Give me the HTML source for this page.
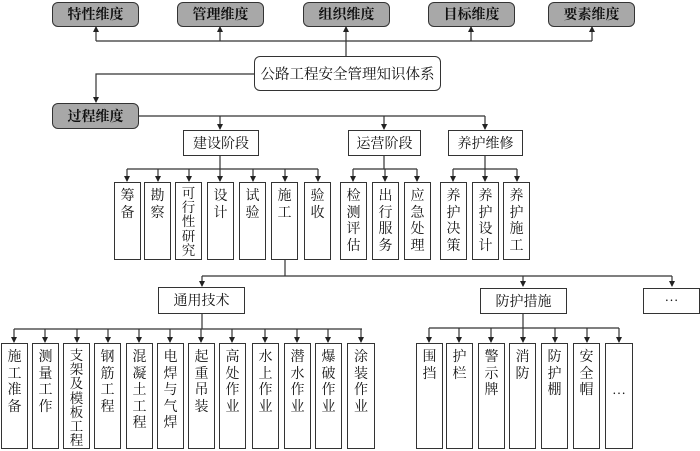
<!DOCTYPE html>
<html><head><meta charset="utf-8"><style>
body{margin:0;width:700px;height:451px;background:#fff;overflow:hidden;position:relative;font-family:"Noto Serif CJK SC","Liberation Serif","WenQuanYi Zen Hei",serif;color:#111}
.b{position:absolute;box-sizing:border-box;border:1.3px solid #333;background:#fff;text-align:center;font-size:14px;}
.g{background:#a8a8a8;border-radius:6px;font-weight:bold;line-height:23px;font-size:14px}
.h{line-height:24px}
.v{font-size:14px;line-height:16.5px;padding-top:4px}
.t{line-height:14.2px;font-size:13.5px}
svg{position:absolute;left:0;top:0}
</style></head><body>
<svg width="700" height="451">
<defs><marker id="a" markerWidth="6" markerHeight="6" refX="5" refY="3" orient="auto" markerUnits="userSpaceOnUse"><path d="M0,0L6,3L0,6z" fill="#222"/></marker></defs>
<g stroke="#333" stroke-width="1.2" fill="none">
<path d="M96,41H592M346,56V41"/>
<path d="M96,41V27" marker-end="url(#a)"/><path d="M220,41V27" marker-end="url(#a)"/><path d="M346,41V27" marker-end="url(#a)"/><path d="M471,41V27" marker-end="url(#a)"/><path d="M592,41V27" marker-end="url(#a)"/>
<path d="M254,74H96V102" marker-end="url(#a)"/>
<path d="M139,116H485"/>
<path d="M220,116V129" marker-end="url(#a)"/><path d="M384,116V129" marker-end="url(#a)"/><path d="M485,116V129" marker-end="url(#a)"/>
<path d="M220,155V169M127,169H318M384,155V169M353,169H417M485,155V169M453,169H517"/>
<path d="M127,169V181" marker-end="url(#a)"/><path d="M158,169V181" marker-end="url(#a)"/><path d="M189,169V181" marker-end="url(#a)"/><path d="M220,169V181" marker-end="url(#a)"/><path d="M253,169V181" marker-end="url(#a)"/><path d="M285,169V181" marker-end="url(#a)"/><path d="M318,169V181" marker-end="url(#a)"/>
<path d="M353,169V181" marker-end="url(#a)"/><path d="M385,169V181" marker-end="url(#a)"/><path d="M417,169V181" marker-end="url(#a)"/>
<path d="M453,169V181" marker-end="url(#a)"/><path d="M485,169V181" marker-end="url(#a)"/><path d="M517,169V181" marker-end="url(#a)"/>
<path d="M285,260V276M202,276H672"/>
<path d="M202,276V286" marker-end="url(#a)"/><path d="M523,276V286" marker-end="url(#a)"/><path d="M672,276V286" marker-end="url(#a)"/>
<path d="M202,313V329M14,329H362M523,313V328M429,328H619"/>
<path d="M14,329V342" marker-end="url(#a)"/><path d="M45,329V342" marker-end="url(#a)"/><path d="M77,329V342" marker-end="url(#a)"/><path d="M108,329V342" marker-end="url(#a)"/><path d="M139,329V342" marker-end="url(#a)"/><path d="M170,329V342" marker-end="url(#a)"/><path d="M201,329V342" marker-end="url(#a)"/><path d="M232,329V342" marker-end="url(#a)"/><path d="M265,329V342" marker-end="url(#a)"/><path d="M297,329V342" marker-end="url(#a)"/><path d="M328,329V342" marker-end="url(#a)"/><path d="M361,329V342" marker-end="url(#a)"/>
<path d="M429,328V342" marker-end="url(#a)"/><path d="M459,328V342" marker-end="url(#a)"/><path d="M491,328V342" marker-end="url(#a)"/><path d="M523,328V342" marker-end="url(#a)"/><path d="M555,328V342" marker-end="url(#a)"/><path d="M587,328V342" marker-end="url(#a)"/><path d="M619,328V342" marker-end="url(#a)"/>
</g></svg>
<div class="b g" style="left:52px;top:2px;width:87px;height:25px">特性维度</div>
<div class="b g" style="left:177px;top:2px;width:87px;height:25px">管理维度</div>
<div class="b g" style="left:303px;top:2px;width:87px;height:25px">组织维度</div>
<div class="b g" style="left:428px;top:2px;width:87px;height:25px">目标维度</div>
<div class="b g" style="left:548px;top:2px;width:87px;height:25px">要素维度</div>
<div class="b" style="left:254px;top:56px;width:187px;height:35px;border-radius:6px;line-height:33px;font-size:14.5px">公路工程安全管理知识体系</div>
<div class="b g" style="left:52px;top:103px;width:87px;height:26px;line-height:24px">过程维度</div>
<div class="b h" style="left:183px;top:130px;width:76px;height:26px">建设阶段</div>
<div class="b h" style="left:348px;top:130px;width:73px;height:26px">运营阶段</div>
<div class="b h" style="left:448px;top:130px;width:75px;height:26px">养护维修</div>
<div class="b v" style="left:114px;top:182px;width:27px;height:78px">筹<br>备</div>
<div class="b v" style="left:144px;top:182px;width:27px;height:78px">勘<br>察</div>
<div class="b v t" style="left:175px;top:182px;width:27px;height:78px;padding-top:2px">可<br>行<br>性<br>研<br>究</div>
<div class="b v" style="left:207px;top:182px;width:27px;height:78px">设<br>计</div>
<div class="b v" style="left:239px;top:182px;width:27px;height:78px">试<br>验</div>
<div class="b v" style="left:271px;top:182px;width:27px;height:78px">施<br>工</div>
<div class="b v" style="left:304px;top:182px;width:27px;height:78px">验<br>收</div>
<div class="b v" style="left:340px;top:182px;width:27px;height:78px">检<br>测<br>评<br>估</div>
<div class="b v" style="left:372px;top:182px;width:27px;height:78px">出<br>行<br>服<br>务</div>
<div class="b v" style="left:404px;top:182px;width:27px;height:78px">应<br>急<br>处<br>理</div>
<div class="b v" style="left:440px;top:182px;width:27px;height:78px">养<br>护<br>决<br>策</div>
<div class="b v" style="left:472px;top:182px;width:27px;height:78px">养<br>护<br>设<br>计</div>
<div class="b v" style="left:503px;top:182px;width:27px;height:78px">养<br>护<br>施<br>工</div>
<div class="b h" style="left:158px;top:287px;width:87px;height:27px">通用技术</div>
<div class="b h" style="left:480px;top:288px;width:87px;height:26px">防护措施</div>
<div class="b h" style="left:643px;top:288px;width:57px;height:26px">…</div>
<div class="b v" style="left:1px;top:343px;width:27px;height:106px">施<br>工<br>准<br>备</div>
<div class="b v" style="left:32px;top:343px;width:27px;height:106px">测<br>量<br>工<br>作</div>
<div class="b v t" style="left:63px;top:343px;width:27px;height:106px;padding-top:3px">支<br>架<br>及<br>模<br>板<br>工<br>程</div>
<div class="b v" style="left:94px;top:343px;width:27px;height:106px">钢<br>筋<br>工<br>程</div>
<div class="b v" style="left:126px;top:343px;width:27px;height:106px">混<br>凝<br>土<br>工<br>程</div>
<div class="b v" style="left:157px;top:343px;width:27px;height:106px">电<br>焊<br>与<br>气<br>焊</div>
<div class="b v" style="left:188px;top:343px;width:27px;height:106px">起<br>重<br>吊<br>装</div>
<div class="b v" style="left:219px;top:343px;width:27px;height:106px">高<br>处<br>作<br>业</div>
<div class="b v" style="left:252px;top:343px;width:27px;height:106px">水<br>上<br>作<br>业</div>
<div class="b v" style="left:284px;top:343px;width:27px;height:106px">潜<br>水<br>作<br>业</div>
<div class="b v" style="left:315px;top:343px;width:27px;height:106px">爆<br>破<br>作<br>业</div>
<div class="b v" style="left:347px;top:343px;width:28px;height:106px">涂<br>装<br>作<br>业</div>
<div class="b v" style="left:416px;top:343px;width:27px;height:106px">围<br>挡</div>
<div class="b v" style="left:446px;top:343px;width:27px;height:106px">护<br>栏</div>
<div class="b v" style="left:478px;top:343px;width:27px;height:106px">警<br>示<br>牌</div>
<div class="b v" style="left:509px;top:343px;width:27px;height:106px">消<br>防</div>
<div class="b v" style="left:541px;top:343px;width:27px;height:106px">防<br>护<br>棚</div>
<div class="b v" style="left:573px;top:343px;width:27px;height:106px">安<br>全<br>帽</div>
<div class="b v" style="left:605px;top:343px;width:28px;height:106px;padding-top:42px">…</div>
</body></html>
